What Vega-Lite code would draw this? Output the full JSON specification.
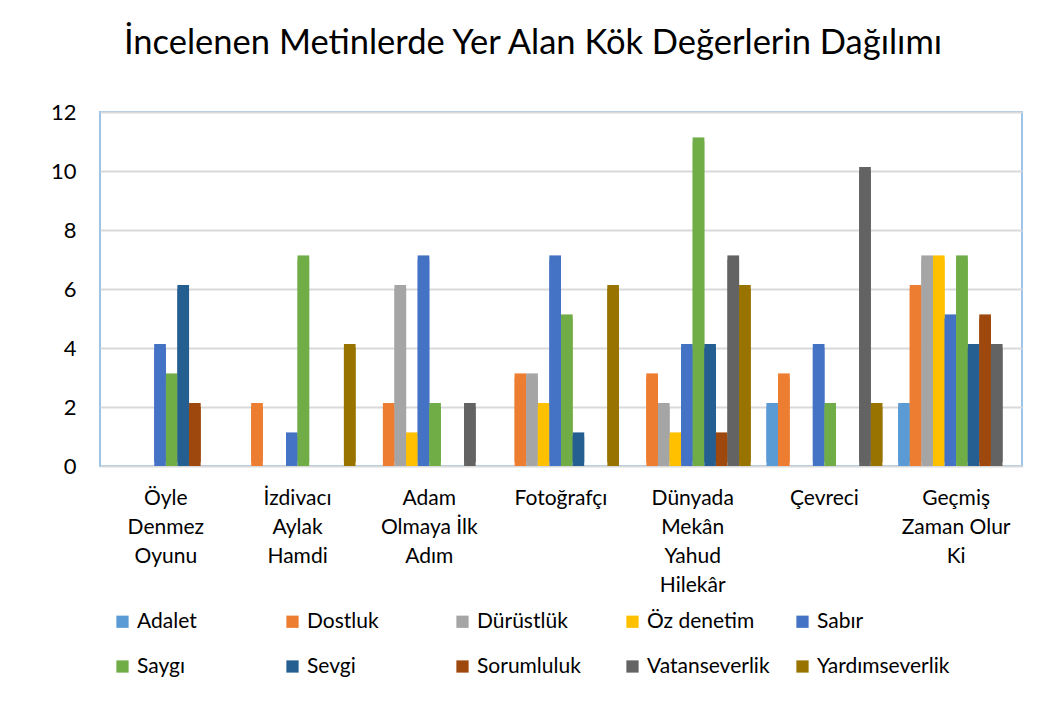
{
  "$schema": "https://vega.github.io/schema/vega-lite/v6.json",
  "autosize": {"type": "none"},
  "width": 922,
  "height": 354,
  "padding": {"left": 100, "top": 112, "right": 35, "bottom": 236},
  "background": "white",
  "title": {
    "text": "İncelenen Metinlerde Yer Alan Kök Değerlerin Dağılımı",
    "font": "Lato",
    "fontSize": 34.5,
    "fontWeight": "normal",
    "color": "#000000",
    "anchor": "middle",
    "dx": -28,
    "offset": 40
  },
  "config": {
    "font": "Lato",
    "view": {"stroke": "#9DC3E6", "strokeWidth": 2}
  },
  "data": {
    "values": [
      {"k": "Öyle Denmez Oyunu", "d": "Adalet", "v": 0},
      {"k": "Öyle Denmez Oyunu", "d": "Dostluk", "v": 0},
      {"k": "Öyle Denmez Oyunu", "d": "Dürüstlük", "v": 0},
      {"k": "Öyle Denmez Oyunu", "d": "Öz denetim", "v": 0},
      {"k": "Öyle Denmez Oyunu", "d": "Sabır", "v": 4},
      {"k": "Öyle Denmez Oyunu", "d": "Saygı", "v": 3},
      {"k": "Öyle Denmez Oyunu", "d": "Sevgi", "v": 6},
      {"k": "Öyle Denmez Oyunu", "d": "Sorumluluk", "v": 2},
      {"k": "Öyle Denmez Oyunu", "d": "Vatanseverlik", "v": 0},
      {"k": "Öyle Denmez Oyunu", "d": "Yardımseverlik", "v": 0},
      {"k": "İzdivacı Aylak Hamdi", "d": "Adalet", "v": 0},
      {"k": "İzdivacı Aylak Hamdi", "d": "Dostluk", "v": 2},
      {"k": "İzdivacı Aylak Hamdi", "d": "Dürüstlük", "v": 0},
      {"k": "İzdivacı Aylak Hamdi", "d": "Öz denetim", "v": 0},
      {"k": "İzdivacı Aylak Hamdi", "d": "Sabır", "v": 1},
      {"k": "İzdivacı Aylak Hamdi", "d": "Saygı", "v": 7},
      {"k": "İzdivacı Aylak Hamdi", "d": "Sevgi", "v": 0},
      {"k": "İzdivacı Aylak Hamdi", "d": "Sorumluluk", "v": 0},
      {"k": "İzdivacı Aylak Hamdi", "d": "Vatanseverlik", "v": 0},
      {"k": "İzdivacı Aylak Hamdi", "d": "Yardımseverlik", "v": 4},
      {"k": "Adam Olmaya İlk Adım", "d": "Adalet", "v": 0},
      {"k": "Adam Olmaya İlk Adım", "d": "Dostluk", "v": 2},
      {"k": "Adam Olmaya İlk Adım", "d": "Dürüstlük", "v": 6},
      {"k": "Adam Olmaya İlk Adım", "d": "Öz denetim", "v": 1},
      {"k": "Adam Olmaya İlk Adım", "d": "Sabır", "v": 7},
      {"k": "Adam Olmaya İlk Adım", "d": "Saygı", "v": 2},
      {"k": "Adam Olmaya İlk Adım", "d": "Sevgi", "v": 0},
      {"k": "Adam Olmaya İlk Adım", "d": "Sorumluluk", "v": 0},
      {"k": "Adam Olmaya İlk Adım", "d": "Vatanseverlik", "v": 2},
      {"k": "Adam Olmaya İlk Adım", "d": "Yardımseverlik", "v": 0},
      {"k": "Fotoğrafçı", "d": "Adalet", "v": 0},
      {"k": "Fotoğrafçı", "d": "Dostluk", "v": 3},
      {"k": "Fotoğrafçı", "d": "Dürüstlük", "v": 3},
      {"k": "Fotoğrafçı", "d": "Öz denetim", "v": 2},
      {"k": "Fotoğrafçı", "d": "Sabır", "v": 7},
      {"k": "Fotoğrafçı", "d": "Saygı", "v": 5},
      {"k": "Fotoğrafçı", "d": "Sevgi", "v": 1},
      {"k": "Fotoğrafçı", "d": "Sorumluluk", "v": 0},
      {"k": "Fotoğrafçı", "d": "Vatanseverlik", "v": 0},
      {"k": "Fotoğrafçı", "d": "Yardımseverlik", "v": 6},
      {"k": "Dünyada Mekân Yahud Hilekâr", "d": "Adalet", "v": 0},
      {"k": "Dünyada Mekân Yahud Hilekâr", "d": "Dostluk", "v": 3},
      {"k": "Dünyada Mekân Yahud Hilekâr", "d": "Dürüstlük", "v": 2},
      {"k": "Dünyada Mekân Yahud Hilekâr", "d": "Öz denetim", "v": 1},
      {"k": "Dünyada Mekân Yahud Hilekâr", "d": "Sabır", "v": 4},
      {"k": "Dünyada Mekân Yahud Hilekâr", "d": "Saygı", "v": 11},
      {"k": "Dünyada Mekân Yahud Hilekâr", "d": "Sevgi", "v": 4},
      {"k": "Dünyada Mekân Yahud Hilekâr", "d": "Sorumluluk", "v": 1},
      {"k": "Dünyada Mekân Yahud Hilekâr", "d": "Vatanseverlik", "v": 7},
      {"k": "Dünyada Mekân Yahud Hilekâr", "d": "Yardımseverlik", "v": 6},
      {"k": "Çevreci", "d": "Adalet", "v": 2},
      {"k": "Çevreci", "d": "Dostluk", "v": 3},
      {"k": "Çevreci", "d": "Dürüstlük", "v": 0},
      {"k": "Çevreci", "d": "Öz denetim", "v": 0},
      {"k": "Çevreci", "d": "Sabır", "v": 4},
      {"k": "Çevreci", "d": "Saygı", "v": 2},
      {"k": "Çevreci", "d": "Sevgi", "v": 0},
      {"k": "Çevreci", "d": "Sorumluluk", "v": 0},
      {"k": "Çevreci", "d": "Vatanseverlik", "v": 10},
      {"k": "Çevreci", "d": "Yardımseverlik", "v": 2},
      {"k": "Geçmiş Zaman Olur Ki", "d": "Adalet", "v": 2},
      {"k": "Geçmiş Zaman Olur Ki", "d": "Dostluk", "v": 6},
      {"k": "Geçmiş Zaman Olur Ki", "d": "Dürüstlük", "v": 7},
      {"k": "Geçmiş Zaman Olur Ki", "d": "Öz denetim", "v": 7},
      {"k": "Geçmiş Zaman Olur Ki", "d": "Sabır", "v": 5},
      {"k": "Geçmiş Zaman Olur Ki", "d": "Saygı", "v": 7},
      {"k": "Geçmiş Zaman Olur Ki", "d": "Sevgi", "v": 4},
      {"k": "Geçmiş Zaman Olur Ki", "d": "Sorumluluk", "v": 5},
      {"k": "Geçmiş Zaman Olur Ki", "d": "Vatanseverlik", "v": 4},
      {"k": "Geçmiş Zaman Olur Ki", "d": "Yardımseverlik", "v": 0}
    ]
  },
  "encoding": {
    "x": {
      "field": "k",
      "type": "nominal",
      "sort": null,
      "title": null,
      "scale": {"paddingInner": 0.12, "paddingOuter": 0.06},
      "axis": {
        "labelAngle": 0,
        "labelFontSize": 21,
        "labelColor": "#000000",
        "labelPadding": 21,
        "labelLineHeight": 29,
        "labelBaseline": "top",
        "labelLimit": 200,
        "ticks": false,
        "domain": false,
        "labelExpr": "datum.label == 'Öyle Denmez Oyunu' ? ['Öyle', 'Denmez', 'Oyunu'] : datum.label == 'İzdivacı Aylak Hamdi' ? ['İzdivacı', 'Aylak', 'Hamdi'] : datum.label == 'Adam Olmaya İlk Adım' ? ['Adam', 'Olmaya İlk', 'Adım'] : datum.label == 'Dünyada Mekân Yahud Hilekâr' ? ['Dünyada', 'Mekân', 'Yahud', 'Hilekâr'] : datum.label == 'Geçmiş Zaman Olur Ki' ? ['Geçmiş', 'Zaman Olur', 'Ki'] : datum.label"
      }
    },
    "xOffset": {
      "field": "d",
      "type": "nominal",
      "sort": null,
      "scale": {"paddingInner": 0, "paddingOuter": 0}
    },
    "y": {
      "field": "v",
      "type": "quantitative",
      "title": null,
      "scale": {"domain": [0, 12]},
      "axis": {
        "values": [0, 2, 4, 6, 8, 10, 12],
        "labelFontSize": 22,
        "labelColor": "#000000",
        "labelPadding": 24,
        "ticks": false,
        "domain": false,
        "gridColor": "#D9D9D9",
        "gridWidth": 2
      }
    },
    "color": {
      "field": "d",
      "type": "nominal",
      "sort": null,
      "title": null,
      "scale": {
        "domain": ["Adalet", "Dostluk", "Dürüstlük", "Öz denetim", "Sabır", "Saygı", "Sevgi", "Sorumluluk", "Vatanseverlik", "Yardımseverlik"],
        "range": ["#5B9BD5", "#ED7D31", "#A5A5A5", "#FFC000", "#4472C4", "#70AD47", "#255E91", "#9E480E", "#636363", "#997300"]
      },
      "legend": {
        "orient": "none",
        "legendX": 12,
        "legendY": 499,
        "direction": "horizontal",
        "columns": 5,
        "gridAlign": "all",
        "columnPadding": 12,
        "rowPadding": 23,
        "symbolType": "square",
        "symbolSize": 150,
        "symbolStrokeWidth": 0,
        "symbolOpacity": 1,
        "labelFontSize": 21,
        "labelColor": "#000000",
        "labelLimit": 200,
        "labelOffset": 4
      }
    }
  },
  "layer": [
    {"mark": {"type": "bar", "xOffset": 4, "yOffset": -4}},
    {"mark": {"type": "bar", "xOffset": 4, "yOffset": -4, "color": "#000000", "opacity": 0.35}},
    {"mark": {"type": "bar"}}
  ]
}
